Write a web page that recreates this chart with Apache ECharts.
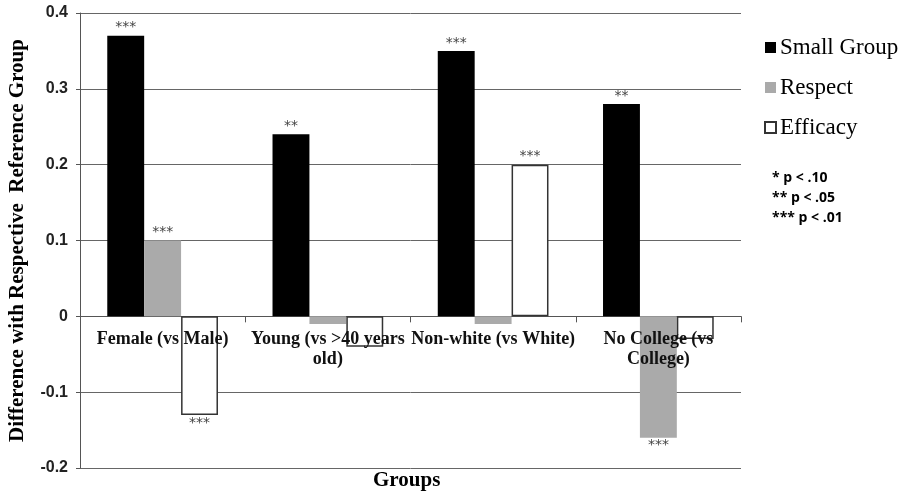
<!DOCTYPE html>
<html><head><meta charset="utf-8">
<script src="https://cdn.jsdelivr.net/npm/echarts@6/dist/echarts.min.js"></script>
<style>html,body{margin:0;padding:0;background:#fff}#c{width:908px;height:496px}</style>
</head><body><div id="c"></div>
<script>
const categories = ["Female (vs Male)", "Young (vs >40 years\nold)", "Non-white (vs White)", "No College (vs\nCollege)"];
const seriesNames = ["Small Group", "Respect", "Efficacy"];
const smallGroup = [0.37, 0.24, 0.35, 0.28];
const respect = [0.10, -0.01, -0.01, -0.16];
const efficacy = [-0.13, -0.04, 0.20, -0.03];
const sigSmall = ["***", "**", "***", "**"];
const sigRespect = ["***", "", "", "***"];
const sigEfficacy = ["***", "", "***", ""];
const yTicks = { min: -0.2, max: 0.4, interval: 0.1 };
const notes = ["* p < .10", "** p < .05", "*** p < .01"];

const serif = "Liberation Serif";
function mk(vals, sig) {
  return vals.map((v, i) => ({
    value: v,
    label: { show: sig[i] !== "", position: v < 0 ? "bottom" : "top", formatter: sig[i] }
  }));
}
const labelStyle = { color: "#444", fontSize: 14, fontFamily: "DejaVu Sans", distance: 1 };
const chart = echarts.init(document.getElementById("c"));
chart.setOption({
  animation: false,
  grid: { left: 80, right: 167, top: 13, bottom: 28, containLabel: false, outerBoundsMode: "none" },
  legend: {
    orient: "vertical", left: 759, top: 31, itemGap: 17,
    itemWidth: 11, itemHeight: 11, icon: "rect",
    textStyle: { fontFamily: serif, fontSize: 23, color: "#000", padding: [0,0,0,-1] },
    data: seriesNames
  },
  graphic: notes.map((t, i) => ({
    type: "text", left: 772, top: 171 + i * 20,
    style: { text: t, font: "bold 14px 'Open Sans'", fill: "#000" }
  })).concat([{
    type: "text", left: 373, top: 470,
    style: { text: "Groups", font: "bold 21px 'Liberation Serif'", fill: "#000" }
  }]),
  xAxis: {
    type: "category", data: categories,
    axisLine: { onZero: true, lineStyle: { color: "#555", width: 1 } },
    axisTick: { show: true, length: 6, lineStyle: { color: "#555" } },
    axisLabel: { show: false }
  },
  yAxis: {
    type: "value", min: yTicks.min, max: yTicks.max, interval: yTicks.interval,
    name: "Difference with Respective  Reference Group", nameLocation: "middle", nameGap: 52,
    nameTextStyle: { fontFamily: serif, fontWeight: "bold", fontSize: 21, color: "#000" },
    axisLine: { show: true, lineStyle: { color: "#555" } },
    axisTick: { show: true, length: 4, lineStyle: { color: "#555" } },
    splitLine: { lineStyle: { color: "#666", width: 1 } },
    axisLabel: { fontFamily: "Liberation Sans", fontWeight: "bold", fontSize: 16, color: "#222", margin: 12,
      formatter: v => (Math.round(v * 10) / 10).toString() }
  },
  series: [
    { name: seriesNames[0], type: "bar", data: mk(smallGroup, sigSmall), barGap: "0%", barCategoryGap: "33%",
      itemStyle: { color: "#000" }, label: labelStyle },
    { name: seriesNames[1], type: "bar", data: mk(respect, sigRespect), barGap: "0%", barCategoryGap: "33%",
      itemStyle: { color: "#aaaaaa" }, label: labelStyle },
    { name: seriesNames[2], type: "bar", data: mk(efficacy, sigEfficacy), barGap: "0%", barCategoryGap: "33%",
      itemStyle: { color: "#fff", borderColor: "#333", borderWidth: 1.5 }, label: labelStyle },
    { name: "catLabels", type: "scatter", data: categories.map((c, i) => [i, 0]),
      symbolSize: 2, itemStyle: { color: "rgba(0,0,0,0)", opacity: 1 }, z: 10, silent: true,
      labelLayout: { hideOverlap: false },
      label: { show: true, position: "bottom", distance: 12, formatter: p => categories[p.dataIndex],
        fontFamily: serif, fontWeight: "bold", fontSize: 18, lineHeight: 20, color: "#111", align: "center" } }
  ]
});
</script></body></html>
